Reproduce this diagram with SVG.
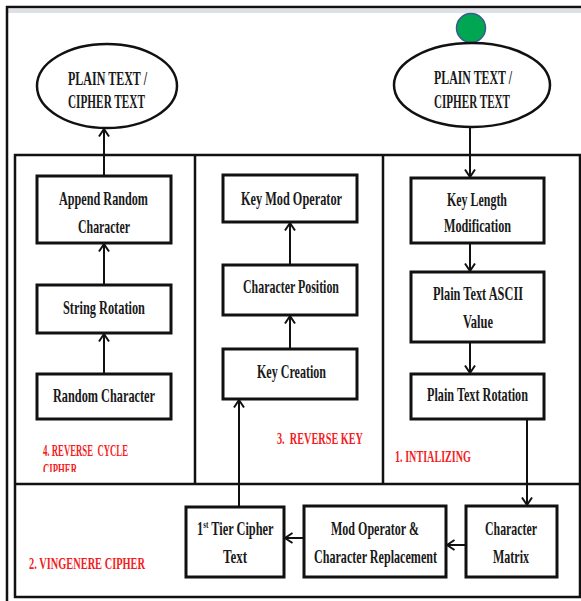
<svg xmlns="http://www.w3.org/2000/svg" width="581" height="601" viewBox="0 0 581 601">
<style>
.box{fill:#fff;stroke:#111;stroke-width:3}
.ell{fill:#fff;stroke:#111;stroke-width:2.5}
.frame{fill:none;stroke:#111;stroke-width:2.5}
.cn{fill:none;stroke:#111;stroke-width:2}
.t{font-family:"Liberation Serif","Times New Roman",serif;font-weight:bold;font-size:19px;fill:#1a1a1a}
.r{font-family:"Liberation Serif","Times New Roman",serif;font-weight:bold;font-size:17px;fill:#f21d25;white-space:pre}
</style>
<defs>
<marker id="ah" markerUnits="userSpaceOnUse" markerWidth="12" markerHeight="12" refX="9" refY="6" orient="auto">
<path d="M1.5,1 L9,6 L1.5,11" fill="none" stroke="#111" stroke-width="2"/>
</marker>
<clipPath id="clipC"><rect x="15" y="150" width="180" height="322"/></clipPath>
</defs>
<rect width="581" height="601" fill="#fff"/>
<g id="frame">
<rect x="8" y="9" width="573" height="4" fill="#dde1e7"/>
<line class="frame" x1="6" y1="7" x2="581" y2="7"/>
<line class="frame" x1="7" y1="6" x2="7" y2="601"/>
<rect class="frame" x="15" y="155" width="565" height="442" stroke-width="3"/>
<line class="frame" x1="195" y1="155" x2="195" y2="484" stroke-width="2.5"/>
<line class="frame" x1="383" y1="155" x2="383" y2="484" stroke-width="2.5"/>
<line class="frame" x1="15" y1="484" x2="580" y2="484" stroke-width="3"/>
</g>
<g id="connectors">
<line class="cn" x1="104" y1="176" x2="104" y2="129" marker-end="url(#ah)"/>
<line class="cn" x1="470" y1="127" x2="470" y2="177" marker-end="url(#ah)"/>
<line class="cn" x1="104" y1="374" x2="104" y2="334" marker-end="url(#ah)"/>
<line class="cn" x1="104" y1="285" x2="104" y2="244" marker-end="url(#ah)"/>
<line class="cn" x1="290" y1="349" x2="290" y2="316" marker-end="url(#ah)"/>
<line class="cn" x1="290" y1="265" x2="290" y2="223" marker-end="url(#ah)"/>
<line class="cn" x1="239" y1="507" x2="239" y2="400" marker-end="url(#ah)"/>
<line class="cn" x1="470" y1="243" x2="470" y2="271" marker-end="url(#ah)"/>
<line class="cn" x1="470" y1="342" x2="470" y2="373" marker-end="url(#ah)"/>
<line class="cn" x1="527" y1="419" x2="527" y2="505" marker-end="url(#ah)"/>
<line class="cn" x1="466" y1="545" x2="447" y2="545" marker-end="url(#ah)"/>
<line class="cn" x1="304" y1="538" x2="285" y2="538" marker-end="url(#ah)"/>
</g>
<g id="start-dot"><circle cx="471" cy="28" r="14.5" fill="#00a651" stroke="#3b5b8f" stroke-width="1.5"/></g>
<g id="plain-left">
<ellipse class="ell" cx="107" cy="86" rx="70" ry="42"/>
<text class="t" x="68" y="85" textLength="79" lengthAdjust="spacingAndGlyphs">PLAIN TEXT /</text>
<text class="t" x="68" y="108" textLength="77" lengthAdjust="spacingAndGlyphs">CIPHER TEXT</text>
</g>
<g id="plain-right">
<ellipse class="ell" cx="472" cy="85" rx="78" ry="42"/>
<text class="t" x="434" y="84" textLength="78" lengthAdjust="spacingAndGlyphs">PLAIN TEXT /</text>
<text class="t" x="434" y="108" textLength="76" lengthAdjust="spacingAndGlyphs">CIPHER TEXT</text>
</g>
<g id="append-random">
<rect class="box" x="37" y="176" width="134" height="67"/>
<text class="t" x="59" y="205" textLength="89" lengthAdjust="spacingAndGlyphs">Append Random</text>
<text class="t" x="78" y="233" textLength="52" lengthAdjust="spacingAndGlyphs">Character</text>
</g>
<g id="string-rotation">
<rect class="box" x="37" y="285" width="134" height="48"/>
<text class="t" x="63" y="314" textLength="82" lengthAdjust="spacingAndGlyphs">String Rotation</text>
</g>
<g id="random-character">
<rect class="box" x="37" y="374" width="134" height="45"/>
<text class="t" x="53" y="402" textLength="102" lengthAdjust="spacingAndGlyphs">Random Character</text>
</g>
<g id="key-mod-operator">
<rect class="box" x="223" y="175" width="134" height="47"/>
<text class="t" x="241" y="205" textLength="101" lengthAdjust="spacingAndGlyphs">Key Mod Operator</text>
</g>
<g id="character-position">
<rect class="box" x="223" y="265" width="134" height="50"/>
<text class="t" x="243" y="293" textLength="96" lengthAdjust="spacingAndGlyphs">Character Position</text>
</g>
<g id="key-creation">
<rect class="box" x="223" y="349" width="134" height="50"/>
<text class="t" x="257" y="378" textLength="69" lengthAdjust="spacingAndGlyphs">Key Creation</text>
</g>
<g id="key-length">
<rect class="box" x="411" y="178" width="133" height="65"/>
<text class="t" x="447" y="206" textLength="60" lengthAdjust="spacingAndGlyphs">Key Length</text>
<text class="t" x="444" y="232" textLength="67" lengthAdjust="spacingAndGlyphs">Modification</text>
</g>
<g id="ascii-value">
<rect class="box" x="411" y="272" width="133" height="70"/>
<text class="t" x="433" y="300" textLength="90" lengthAdjust="spacingAndGlyphs">Plain Text ASCII</text>
<text class="t" x="463" y="328" textLength="30" lengthAdjust="spacingAndGlyphs">Value</text>
</g>
<g id="plain-rotation">
<rect class="box" x="411" y="374" width="133" height="45"/>
<text class="t" x="427" y="401" textLength="101" lengthAdjust="spacingAndGlyphs">Plain Text Rotation</text>
</g>
<g id="first-tier">
<rect class="box" x="186" y="507" width="98" height="70"/>
<text class="t" transform="translate(197,535) scale(0.65,1)">1<tspan font-size="11" dy="-7">st</tspan><tspan dy="7"> Tier Cipher</tspan></text>
<text class="t" x="223" y="563" textLength="24" lengthAdjust="spacingAndGlyphs">Text</text>
</g>
<g id="mod-operator">
<rect class="box" x="304" y="506" width="142" height="71"/>
<text class="t" x="331" y="535" textLength="88" lengthAdjust="spacingAndGlyphs">Mod Operator &amp;</text>
<text class="t" x="314" y="563" textLength="123" lengthAdjust="spacingAndGlyphs">Character Replacement</text>
</g>
<g id="character-matrix">
<rect class="box" x="466" y="506" width="91" height="71"/>
<text class="t" x="485" y="535" textLength="52" lengthAdjust="spacingAndGlyphs">Character</text>
<text class="t" x="493" y="563" textLength="36" lengthAdjust="spacingAndGlyphs">Matrix</text>
</g>
<g id="labels">
<text class="r" x="43" y="456" textLength="85" lengthAdjust="spacingAndGlyphs">4. REVERSE  CYCLE</text>
<text class="r" x="43" y="475" textLength="34" lengthAdjust="spacingAndGlyphs" clip-path="url(#clipC)">CIPHER</text>
<text class="r" x="277" y="444" textLength="86" lengthAdjust="spacingAndGlyphs">3.  REVERSE KEY</text>
<text class="r" x="395" y="462" textLength="76" lengthAdjust="spacingAndGlyphs">1. INTIALIZING</text>
<text class="r" x="29" y="569" textLength="116" lengthAdjust="spacingAndGlyphs">2. VINGENERE CIPHER</text>
</g>
</svg>
